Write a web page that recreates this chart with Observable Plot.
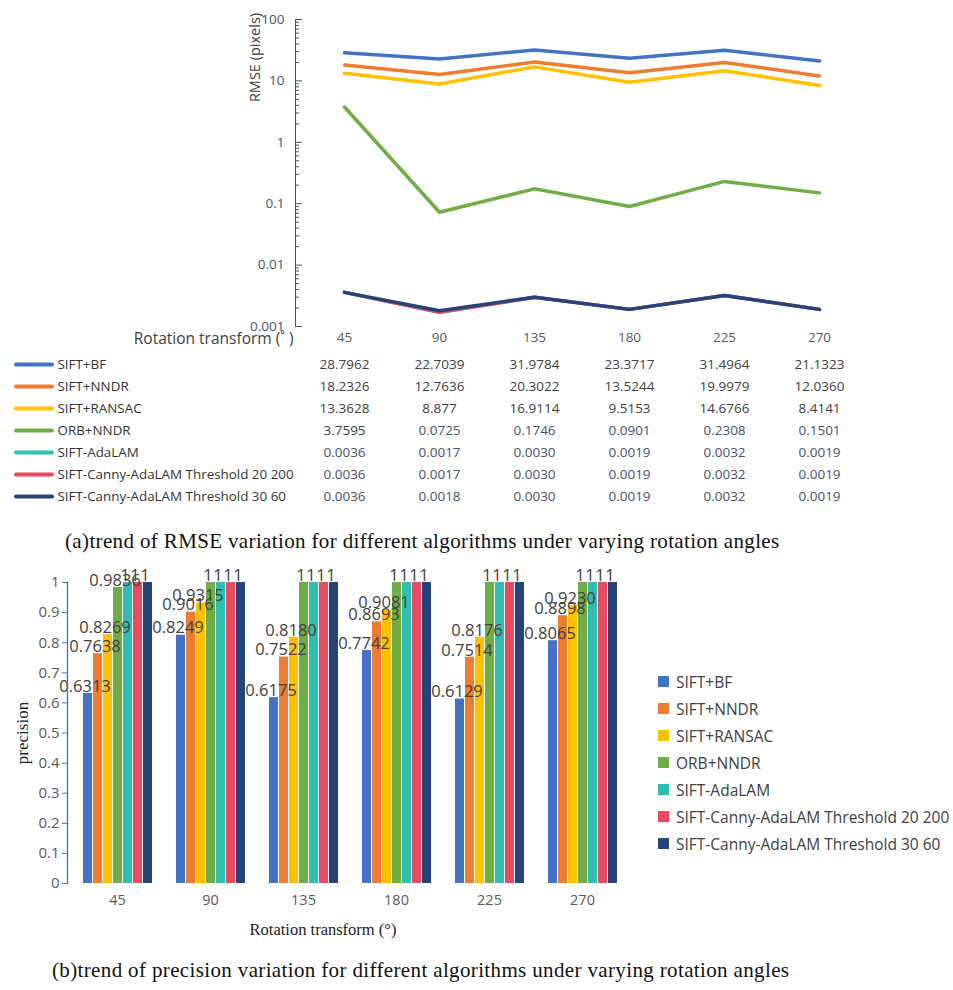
<!DOCTYPE html>
<html><head><meta charset="utf-8">
<script src="https://cdn.jsdelivr.net/npm/d3@7"></script>
<script src="https://cdn.jsdelivr.net/npm/@observablehq/plot@0.6"></script>
<style>
body{margin:0;background:#fff;}
#root{position:relative;width:953px;height:990px;overflow:hidden;font-family:"Open Sans",sans-serif;background:#fff;}
#root svg{position:absolute;left:0;overflow:visible;}
.cap{position:absolute;font-family:"Liberation Serif","Times New Roman",serif;font-size:21px;letter-spacing:0.36px;line-height:24px;color:#111;white-space:nowrap;}
#legend{position:absolute;left:658px;top:668px;font-family:"Open Sans",sans-serif;font-size:15.5px;color:#404040;}
#legend .row{height:27px;display:flex;align-items:center;white-space:nowrap;}
#legend .sw{width:11px;height:11px;margin-right:7px;flex:none;}
</style></head><body><div id="root"></div>
<script>
// ---------- data ----------
const angles = [45, 90, 135, 180, 225, 270];
const algorithms = ["SIFT+BF", "SIFT+NNDR", "SIFT+RANSAC", "ORB+NNDR", "SIFT-AdaLAM",
  "SIFT-Canny-AdaLAM Threshold 20 200", "SIFT-Canny-AdaLAM Threshold 30 60"];
const colors = ["#4472C4", "#ED7D31", "#FFC000", "#70AD47", "#2EBFB0", "#E84B62", "#264478"];

// RMSE (pixels) as printed in the table
const rmseBF      = ["28.7962", "22.7039", "31.9784", "23.3717", "31.4964", "21.1323"];
const rmseNNDR    = ["18.2326", "12.7636", "20.3022", "13.5244", "19.9979", "12.0360"];
const rmseRANSAC  = ["13.3628", "8.877", "16.9114", "9.5153", "14.6766", "8.4141"];
const rmseORB     = ["3.7595", "0.0725", "0.1746", "0.0901", "0.2308", "0.1501"];
const rmseAdaLAM  = ["0.0036", "0.0017", "0.0030", "0.0019", "0.0032", "0.0019"];
const rmseCanny20 = ["0.0036", "0.0017", "0.0030", "0.0019", "0.0032", "0.0019"];
const rmseCanny30 = ["0.0036", "0.0018", "0.0030", "0.0019", "0.0032", "0.0019"];
const rmseTicks = [0.001, 0.01, 0.1, 1, 10, 100];

// precision as labelled on the bars
const precBF      = ["0.6313", "0.8249", "0.6175", "0.7742", "0.6129", "0.8065"];
const precNNDR    = ["0.7638", "0.9016", "0.7522", "0.8693", "0.7514", "0.8898"];
const precRANSAC  = ["0.8269", "0.9315", "0.8180", "0.9081", "0.8176", "0.9230"];
const precORB     = ["0.9836", "1", "1", "1", "1", "1"];
const precAdaLAM  = ["1", "1", "1", "1", "1", "1"];
const precCanny20 = ["1", "1", "1", "1", "1", "1"];
const precCanny30 = ["1", "1", "1", "1", "1", "1"];
const precTicks = [0, 0.1, 0.2, 0.3, 0.4, 0.5, 0.6, 0.7, 0.8, 0.9, 1];

// ---------- tables for the library ----------
const rmseSeries = [rmseBF, rmseNNDR, rmseRANSAC, rmseORB, rmseAdaLAM, rmseCanny20, rmseCanny30];
const precSeries = [precBF, precNNDR, precRANSAC, precORB, precAdaLAM, precCanny20, precCanny30];
const toRows = (series) => algorithms.flatMap((a, i) =>
  angles.map((ang, j) => ({algo: a, angle: ang, text: series[i][j], value: +series[i][j]})));
const rmseRows = toRows(rmseSeries);
const precRows = toRows(precSeries);
const minorTicks = [];
for (let k = -3; k <= 1; k++) for (let m = 2; m <= 9; m++) minorTicks.push(m * Math.pow(10, k));

const root = document.getElementById("root");
const font = "Open Sans, sans-serif";
const serif = "Liberation Serif, Times New Roman, serif";
const place = (el, top) => { el.style.top = top + "px"; root.appendChild(el); return el; };

// ---------- (a) RMSE line chart ----------
const W = 953, mL = 295, mR = 85;
const frameW = W - mL - mR;
const topPlot = Plot.plot({
  width: W, height: 345, marginLeft: mL, marginRight: mR, marginTop: 19, marginBottom: 19,
  style: {fontFamily: font, background: "transparent"},
  x: {type: "point", domain: angles, padding: 0.5},
  y: {type: "log", domain: [0.001, 100]},
  color: {domain: algorithms, range: colors},
  marks: [
    Plot.frame({anchor: "left", stroke: "#44546A"}),
    Plot.tickY(minorTicks, {y: d => d, stroke: "#44546A", insetRight: frameW - 4}),
    Plot.tickY(rmseTicks, {y: d => d, stroke: "#44546A", insetRight: frameW - 7}),
    Plot.axisY({ticks: rmseTicks, tickSize: 0, tickPadding: 11, tickFormat: d => String(d),
      fill: "#44546A", fontSize: 13.5, label: null}),
    Plot.axisX({tickSize: 0, tickPadding: 6, fill: "#595959", fontSize: 13.5, label: null}),
    Plot.text(["RMSE (pixels)"], {frameAnchor: "top-left", dx: -40, dy: 38, rotate: -90,
      textAnchor: "middle", lineAnchor: "middle", fill: "#404040", fontSize: 14.5}),
    Plot.text(["Rotation transform (˚ )"], {frameAnchor: "bottom-left", dx: -2, dy: 17,
      textAnchor: "end", fill: "#404040", fontSize: 15.5}),
    Plot.lineY(rmseRows, {x: "angle", y: "value", z: "algo", stroke: "algo", strokeWidth: 3.5})
  ]
});
place(topPlot, 0);

// ---------- data table under (a) ----------
const tablePlot = Plot.plot({
  width: W, height: 165, marginLeft: mL, marginRight: mR, marginTop: 17, marginBottom: 13,
  style: {fontFamily: font, background: "transparent"},
  x: {type: "point", domain: angles, padding: 0.5, axis: null},
  y: {type: "point", domain: algorithms, padding: 0, axis: null},
  color: {domain: algorithms, range: colors},
  marks: [
    Plot.tickY(algorithms, {y: d => d, stroke: d => d, strokeWidth: 4, strokeLinecap: "round",
      insetLeft: 16 - mL, insetRight: (W - mR) - 52}),
    Plot.text(algorithms, {y: d => d, frameAnchor: "left", dx: 57 - mL, textAnchor: "start",
      fill: "#333333", fontSize: 13.4}),
    Plot.text(rmseRows.filter(d => d.value >= 1), {x: "angle", y: "algo", text: "text",
      fill: "#404040", fontSize: 13.5}),
    Plot.text(rmseRows.filter(d => d.value < 1), {x: "angle", y: "algo", text: "text",
      fill: "#44546A", fontSize: 13.5})
  ]
});
place(tablePlot, 345);

const capA = document.createElement("div");
capA.className = "cap"; capA.style.left = "65px";
capA.textContent = "(a)trend of RMSE variation for different algorithms under varying rotation angles";
place(capA, 529);

// ---------- (b) precision grouped bars ----------
const bH = 385, bL = 67, bR = 321, bT = 22, bB = 62;
const barPlot = Plot.plot({
  width: W, height: bH, marginLeft: bL, marginRight: bR, marginTop: bT, marginBottom: bB,
  style: {fontFamily: font, background: "transparent"},
  fx: {domain: angles, paddingInner: 0.223, paddingOuter: 0.128},
  x: {domain: algorithms, axis: null, paddingInner: 0.14, paddingOuter: 0},
  y: {domain: [0, 1], axis: null},
  color: {domain: algorithms, range: colors},
  marks: [
    Plot.barY(precRows, {fx: "angle", x: "algo", y: "value", fill: "algo"}),
    Plot.text(precRows, {fx: "angle", x: "algo", y: "value", text: "text", dy: -7, dx: -3,
      fill: "#404040", fontSize: 16.5}),
    Plot.axisFx({anchor: "bottom", tickSize: 0, tickPadding: 11, fill: "#595959", fontSize: 14.5, label: null})
  ]
});
place(barPlot, 560);

const barAxis = Plot.plot({
  width: W, height: bH, marginLeft: bL, marginRight: bR, marginTop: bT, marginBottom: bB,
  style: {fontFamily: font, background: "transparent"},
  y: {domain: [0, 1]},
  marks: [
    Plot.frame({anchor: "left", stroke: "#4472C4", strokeWidth: 1.3}),
    Plot.axisY({ticks: precTicks, tickSize: 5, tickPadding: 3, tickFormat: d => String(d),
      stroke: "#4472C4", fill: "#595959", fontSize: 15, label: null}),
    Plot.text(["precision"], {frameAnchor: "left", dx: -45, rotate: -90, textAnchor: "middle",
      lineAnchor: "middle", fill: "#222", fontSize: 17, fontFamily: serif}),
    Plot.text(["Rotation transform (°)"], {frameAnchor: "bottom", dx: -27, dy: 51, textAnchor: "middle",
      fill: "#222", fontSize: 16.5, fontFamily: serif})
  ]
});
place(barAxis, 560);

// legend
const legend = document.createElement("div");
legend.id = "legend";
algorithms.forEach((a, i) => {
  const row = document.createElement("div"); row.className = "row";
  const sw = document.createElement("span"); sw.className = "sw"; sw.style.background = colors[i];
  const t = document.createElement("span"); t.textContent = a;
  row.appendChild(sw); row.appendChild(t); legend.appendChild(row);
});
root.appendChild(legend);

const capB = document.createElement("div");
capB.className = "cap"; capB.style.left = "52px";
capB.textContent = "(b)trend of precision variation for different algorithms under varying rotation angles";
place(capB, 958);
</script></body></html>
